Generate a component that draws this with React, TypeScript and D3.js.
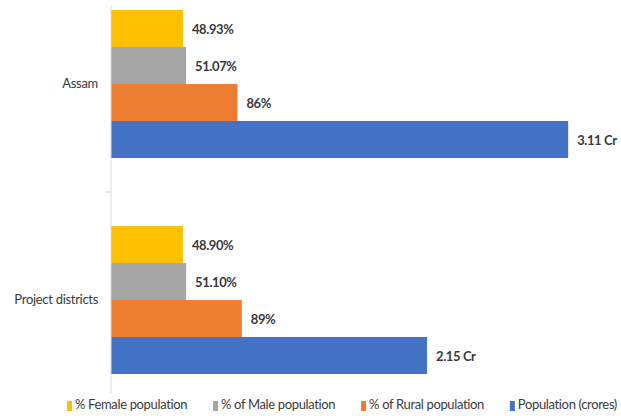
import React, { useRef, useEffect } from 'react';
import * as d3 from 'd3';

const categories = ['Assam', 'Project districts'];
const seriesNames = ['% Female population', '% of Male population', '% of Rural population', 'Population (crores)'];
const seriesColors = ['#FFC000', '#A5A5A5', '#ED7D31', '#4472C4'];

// values as plotted (percentages as fractions, population in crores)
const femaleValues = [0.4893, 0.489];
const maleValues = [0.5107, 0.511];
const ruralValues = [0.86, 0.89];
const populationValues = [3.11, 2.15];

const femaleLabels = ['48.93%', '48.90%'];
const maleLabels = ['51.07%', '51.10%'];
const ruralLabels = ['86%', '89%'];
const populationLabels = ['3.11 Cr', '2.15 Cr'];

const FONT = "Lato, 'Open Sans', sans-serif";

const App: React.FC = () => {
  const svgRef = useRef<SVGSVGElement>(null);
  const width = 621;
  const height = 416;

  useEffect(() => {
    if (!svgRef.current) return;
    const svg = d3.select(svgRef.current);
    svg.selectAll('*').remove();

    const values = [femaleValues, maleValues, ruralValues, populationValues];
    const labels = [femaleLabels, maleLabels, ruralLabels, populationLabels];

    const x = d3.scaleLinear().domain([0, 3.5]).range([111, 111 + 3.5 * 147]);
    const y = d3.scaleBand().domain(categories).range([10, 374]).paddingInner(0.315).paddingOuter(0);
    const ySub = d3.scaleBand().domain(seriesNames).range([0, y.bandwidth()]).padding(0);

    const rows = categories.flatMap((cat, ci) =>
      seriesNames.map((s, si) => ({
        cat,
        series: s,
        color: seriesColors[si],
        value: values[si][ci],
        label: labels[si][ci],
      }))
    );

    svg
      .selectAll('rect.bar')
      .data(rows)
      .enter()
      .append('rect')
      .attr('class', 'bar')
      .attr('x', x(0))
      .attr('y', (d) => y(d.cat)! + ySub(d.series)!)
      .attr('width', (d) => x(d.value) - x(0))
      .attr('height', ySub.bandwidth())
      .attr('fill', (d) => d.color);

    svg
      .selectAll('text.val')
      .data(rows)
      .enter()
      .append('text')
      .attr('class', 'val')
      .attr('x', (d) => x(d.value) + 9)
      .attr('y', (d) => y(d.cat)! + ySub(d.series)! + ySub.bandwidth() / 2 + 2)
      .attr('dominant-baseline', 'middle')
      .attr('font-family', FONT)
      .attr('font-size', '13px')
      .attr('letter-spacing', '-0.4px')
      .attr('font-weight', 'bold')
      .attr('fill', '#3a3a3a')
      .text((d) => d.label);

    // vertical category axis
    svg
      .append('line')
      .attr('x1', x(0))
      .attr('x2', x(0))
      .attr('y1', 5)
      .attr('y2', 393)
      .attr('stroke', '#D9D9D9')
      .attr('stroke-width', 1);

    const boundary = (y(categories[0])! + y.bandwidth() + y(categories[1])!) / 2;
    svg
      .append('line')
      .attr('x1', x(0) - 6)
      .attr('x2', x(0))
      .attr('y1', boundary)
      .attr('y2', boundary)
      .attr('stroke', '#D9D9D9');

    svg
      .selectAll('text.cat')
      .data(categories)
      .enter()
      .append('text')
      .attr('class', 'cat')
      .attr('x', 98)
      .attr('y', (d) => y(d)! + y.bandwidth() / 2 + 1)
      .attr('text-anchor', 'end')
      .attr('dominant-baseline', 'middle')
      .attr('font-family', FONT)
      .attr('font-size', '13px')
      .attr('letter-spacing', '-0.3px')
      .attr('fill', '#3a3a3a')
      .text((d) => d);

    // legend: spread between x=67 and x=617
    const legend = svg.append('g').attr('transform', 'translate(67, 406)');
    const texts = seriesNames.map((name, i) => {
      legend
        .append('rect')
        .attr('class', 'sw')
        .attr('y', -5)
        .attr('width', 5)
        .attr('height', 10)
        .attr('fill', seriesColors[i]);
      return legend
        .append('text')
        .attr('y', 0)
        .attr('dominant-baseline', 'middle')
        .attr('font-family', FONT)
        .attr('font-size', '13px')
        .attr('letter-spacing', '-0.35px')
        .attr('fill', '#3a3a3a')
        .text(name);
    });
    const widths = texts.map((t) => (t.node() as SVGTextElement).getComputedTextLength());
    const total = widths.reduce((a, b) => a + b, 0) + 8 * 4;
    const gap = Math.max(10, (550 - total) / 3);
    let cx = 0;
    legend.selectAll('rect.sw').each(function (_d, i) {
      d3.select(this).attr('x', cx);
      texts[i].attr('x', cx + 8);
      cx += 8 + widths[i] + gap;
    });
  }, []);

  return (
    <svg
      ref={svgRef}
      width={width}
      height={height}
      style={{ position: 'absolute', left: 0, top: 0, background: '#fff' }}
    />
  );
};

export default App;
